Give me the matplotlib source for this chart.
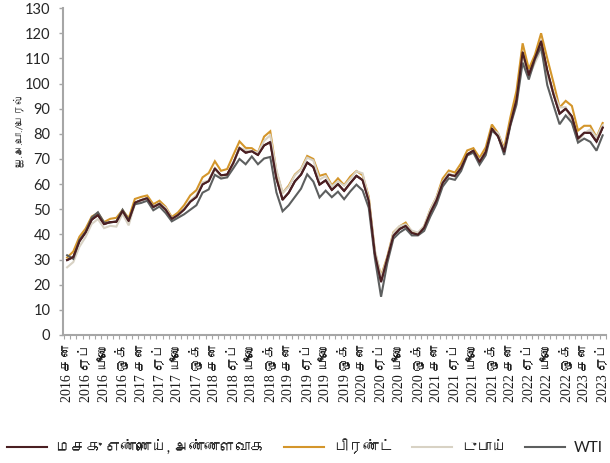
import matplotlib
matplotlib.use("Agg")
import matplotlib.pyplot as plt
from matplotlib import font_manager, ft2font
from matplotlib.ticker import FixedLocator

# ---------------- data ----------------
years = list(range(2016, 2024))
month_names = ["சன", "பெப்", "மார்", "ஏப்", "மே", "யூன்", "யூலை", "ஓக", "செப்", "ஒக்", "நவ", "டிச"]

avg = [29.8, 31.0, 37.3, 40.8, 45.9, 47.7, 44.1, 44.9, 45.0, 49.3, 45.3, 52.6,
       53.6, 54.4, 50.9, 52.2, 49.9, 46.2, 47.7, 49.9, 53.0, 54.9, 59.9, 61.2,
       66.2, 63.5, 63.8, 68.4, 74.4, 72.5, 73.1, 71.6, 75.4, 76.7, 62.3, 53.8,
       56.6, 61.1, 63.8, 68.6, 66.8, 59.8, 61.5, 57.7, 60.0, 57.3, 60.4, 63.3,
       61.6, 53.4, 32.2, 21.2, 30.4, 39.5, 42.1, 43.4, 40.6, 39.9, 42.7, 48.7,
       53.6, 60.5, 63.8, 63.2, 66.4, 71.8, 73.3, 68.9, 72.8, 82.1, 79.0, 72.9,
       83.9, 93.5, 112.4, 103.4, 110.1, 116.8, 105.1, 95.9, 88.0, 90.0, 86.9, 78.1,
       80.4, 80.4, 76.9, 82.5]

brent = [30.8, 33.2, 39.1, 42.3, 47.1, 48.5, 44.9, 46.2, 46.6, 49.7, 46.4, 54.1,
         54.9, 55.5, 52.0, 53.4, 51.0, 46.9, 48.7, 51.6, 55.5, 57.6, 62.7, 64.4,
         69.1, 65.3, 66.0, 71.6, 77.0, 74.4, 74.3, 72.5, 78.9, 81.0, 65.0, 56.5,
         59.4, 63.8, 66.0, 71.2, 70.0, 63.3, 64.0, 59.5, 62.3, 59.6, 63.0, 65.2,
         63.6, 55.0, 33.0, 23.5, 31.0, 40.8, 43.2, 44.7, 40.9, 40.5, 43.2, 49.9,
         54.8, 62.2, 65.4, 64.6, 68.3, 73.4, 74.3, 70.5, 74.6, 83.7, 80.3, 74.3,
         86.5, 97.1, 116.0, 105.8, 111.5, 120.0, 110.0, 100.5, 90.5, 93.1, 91.1, 81.3,
         83.2, 83.2, 78.7, 84.3]

dubai = [26.9, 29.0, 35.1, 39.0, 44.2, 46.1, 42.5, 43.4, 43.1, 48.2, 43.6, 52.2,
         53.6, 54.4, 51.1, 52.3, 50.6, 46.4, 47.6, 50.2, 53.4, 55.6, 60.7, 61.4,
         66.2, 62.7, 62.7, 68.3, 74.4, 73.6, 73.1, 72.5, 77.2, 79.4, 65.6, 56.6,
         58.9, 63.5, 65.8, 70.5, 69.4, 61.8, 63.2, 59.1, 61.1, 59.4, 62.1, 65.1,
         64.3, 54.2, 33.7, 23.0, 30.5, 40.6, 43.3, 44.0, 41.5, 40.7, 43.3, 49.8,
         54.8, 60.9, 64.4, 62.9, 66.2, 71.6, 72.9, 69.5, 72.6, 81.6, 80.3, 73.2,
         83.5, 92.4, 110.9, 102.7, 108.2, 113.3, 103.3, 96.5, 90.5, 90.6, 84.8, 76.9,
         80.2, 81.8, 78.6, 83.4]

wti = [31.7, 30.3, 37.8, 41.0, 46.7, 48.8, 44.7, 44.7, 45.2, 49.8, 45.7, 52.0,
       52.5, 53.4, 49.6, 51.1, 48.5, 45.2, 46.6, 48.0, 49.8, 51.6, 56.6, 57.9,
       63.7, 62.2, 62.7, 66.3, 70.0, 67.9, 71.0, 67.9, 70.2, 70.8, 56.7, 49.2,
       51.6, 54.9, 58.2, 63.9, 61.0, 54.7, 57.4, 54.8, 57.0, 54.0, 57.1, 59.8,
       57.5, 50.6, 30.5, 15.2, 28.5, 38.3, 40.7, 42.3, 39.6, 39.6, 41.4, 47.1,
       52.0, 59.0, 62.3, 61.7, 65.2, 71.4, 72.5, 67.7, 71.5, 81.3, 79.2, 71.6,
       83.2, 91.6, 108.3, 101.6, 109.6, 114.6, 99.4, 91.5, 83.8, 87.3, 84.4, 76.5,
       78.1, 76.8, 73.3, 79.4]

series_names = ["மசகு எண்ணெய், அண்ணளவாக", "பிரண்ட்", "டுபாய்", "WTI"]
colors = ["#4a1f22", "#d4962b", "#d8d2c4", "#5d5f5f"]
y_label = "ஐ.அ.டொ./பெரல்"

# ---------------- fonts ----------------
def find_tamil_font():
    names = []
    for f in font_manager.fontManager.ttflist:
        try:
            cm = ft2font.FT2Font(f.fname).get_charmap()
        except Exception:
            continue
        if 0x0BA4 in cm and f.name not in names:
            names.append(f.name)
    return names

tamil = find_tamil_font()
sans_fam = ["Lato"] + tamil + ["DejaVu Sans"]
serif_fam = ["Liberation Serif"] + tamil + ["DejaVu Sans"]
plt.rcParams["font.family"] = sans_fam

# ---------------- labels ----------------
n = len(avg)
labels = []
for i in range(n):
    y = years[0] + i // 12
    m = i % 12
    labels.append(f"{y} {month_names[m]}")

x = list(range(n))

fig = plt.figure(figsize=(6.10, 4.63), dpi=100)
ax = fig.add_axes([0.103, 0.2765, 0.890, 0.706])

handles = []
for vals, name, c in zip([avg, brent, dubai, wti], series_names, colors):
    h, = ax.plot(x, vals, color=c, lw=1.5, label=name, solid_joinstyle="miter")
    handles.append(h)
# redraw avg on top of light series as in reference
ax.plot(x, avg, color=colors[0], lw=1.5, zorder=2.5)

ax.set_xlim(-0.7, n - 0.5)
ax.set_ylim(0, 130)
ax.set_yticks(range(0, 131, 10))
ax.tick_params(axis="y", labelsize=10.5, length=3, width=1, color="#a6a6a6",
               labelcolor="#262626", pad=6)

major = list(range(0, n, 3))
ax.set_xticks(major)
ax.set_xticklabels([labels[i] for i in major], rotation=90, fontsize=10,
                   family=serif_fam, color="#1a1a1a")
ax.xaxis.set_minor_locator(FixedLocator([i - 0.5 for i in range(n + 1)]))
ax.tick_params(axis="x", which="major", length=0, pad=6)
ax.tick_params(axis="x", which="minor", length=3, width=0.8, color="#a6a6a6")

for s in ["top", "right"]:
    ax.spines[s].set_visible(False)
for s in ["left", "bottom"]:
    ax.spines[s].set_color("#a6a6a6")
    ax.spines[s].set_linewidth(1.5)

fig.text(18 / 610, 1 - 130 / 463, y_label, rotation=90, ha="center", va="center",
         fontsize=7.5, color="#333333")

fig.legend(handles=handles, labels=series_names, loc="center",
           bbox_to_anchor=(0.5, 1 - 447 / 463), ncol=4, frameon=False,
           fontsize=11, handlelength=2.6, columnspacing=1.2, handletextpad=0.6,
           labelcolor="#222222")

fig.savefig("out.png", dpi=100)
